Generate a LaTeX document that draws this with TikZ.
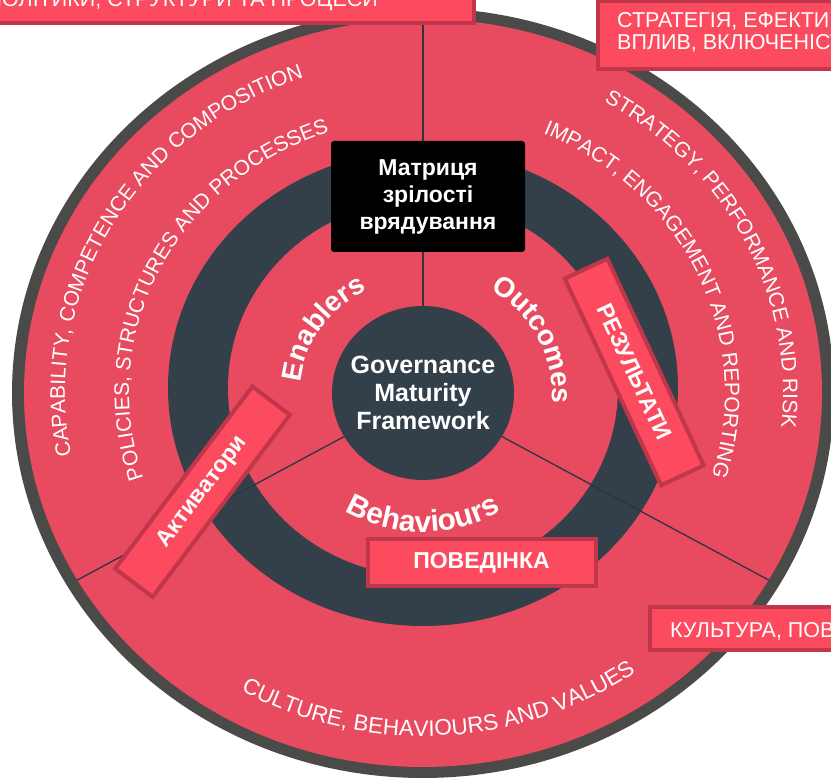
\documentclass[tikz,border=0pt]{standalone}
\usepackage{fontspec}
\setmainfont{Liberation Sans}
\usetikzlibrary{decorations.text}
\definecolor{rimgray}{HTML}{4A4A48}
\definecolor{ringred}{HTML}{E84A5F}
\definecolor{ringdark}{HTML}{333F49}
\definecolor{boxred}{HTML}{FC4A5E}
\definecolor{boxedge}{HTML}{C0364A}
\definecolor{divline}{HTML}{2B3640}
\newcommand\outerfs{\fontsize{21}{25}\selectfont}
\newcommand\bottomfs{\fontsize{22.5}{26}\selectfont}
\newcommand\cornerfs{\fontsize{21.5}{25}\selectfont}
\newcommand\innerfs{\fontsize{28}{32}\selectfont\bfseries}
\newcommand\behfs{\fontsize{30}{34}\selectfont\bfseries}
\newcommand\labelfs{\fontsize{23}{27}\selectfont\bfseries}
\begin{document}
\begin{tikzpicture}[x=1pt,y=1pt,
  labbox/.style={draw=boxedge, fill=boxred, line width=4pt, minimum width=228pt,
    minimum height=47pt, inner sep=0pt, text=white, font=\labelfs},
  cornerbox/.style={draw=boxedge, fill=boxred, line width=4pt},
  cornertext/.style={text=white, font=\cornerfs, inner sep=0pt},
  divider/.style={draw=divline, line width=1.3pt},
  arctxt/.style={decorate, decoration={text along path, text align=center, text={#1}}}
]
\useasboundingbox (0,0) rectangle (831,781);
\clip (0,0) rectangle (831,781);
\coordinate (C) at (423,388);
\coordinate (Cr) at (423,393);
% rings
\fill[rimgray] (C) ellipse [x radius=411pt, y radius=385pt];
\fill[ringred] (C) ellipse [x radius=399pt, y radius=374pt];
\fill[ringdark] (Cr) ellipse [x radius=255pt, y radius=238pt];
\fill[ringred] (Cr) ellipse [x radius=195pt, y radius=188pt];
% dividers
\path (C) ++(90:91pt and 87pt) coordinate (d1a);
\path (C) ++(90:399pt and 374pt) coordinate (d1b);
\path (C) ++(210:91pt and 87pt) coordinate (d2a);
\path (C) ++(210:399pt and 374pt) coordinate (d2b);
\path (C) ++(330:91pt and 87pt) coordinate (d3a);
\path (C) ++(330:399pt and 374pt) coordinate (d3b);
\draw[divider] (d1a) -- (d1b);
\draw[divider] (d2a) -- (d2b);
\draw[divider] (d3a) -- (d3b);
% centre
\fill[ringdark] (C) ellipse [x radius=91pt, y radius=87pt];
\node[text=white, align=center, font=\fontsize{25}{28}\selectfont\bfseries] (gmf) at (C) {Governance\\Maturity\\Framework};
% curved texts
\path[arctxt={|\color{white}\outerfs|CAPABILITY, COMPETENCE AND COMPOSITION}]
  (C) ++(231:358pt and 335pt) arc[start angle=231, end angle=71, x radius=358pt, y radius=335pt];
\path[arctxt={|\color{white}\outerfs|POLICIES, STRUCTURES AND PROCESSES}]
  (C) ++(234:294pt and 275pt) arc[start angle=234, end angle=74, x radius=294pt, y radius=275pt];
\path[arctxt={|\color{white}\innerfs|Enablers}]
  (C) ++(217:123pt and 115pt) arc[start angle=217, end angle=77, x radius=123pt, y radius=115pt];
\path[arctxt={|\color{white}\outerfs|STRATEGY, PERFORMANCE AND RISK}]
  (C) ++(106:360pt and 337pt) arc[start angle=106, end angle=-54, x radius=360pt, y radius=337pt];
\path[arctxt={|\color{white}\outerfs|IMPACT, ENGAGEMENT AND REPORTING}]
  (C) ++(104:302pt and 283pt) arc[start angle=104, end angle=-56, x radius=302pt, y radius=283pt];
\path[arctxt={|\color{white}\innerfs|Outcomes}]
  (C) ++(96:129pt and 121pt) arc[start angle=96, end angle=-44, x radius=129pt, y radius=121pt];
\path[arctxt={|\color{white}\bottomfs|CULTURE, BEHAVIOURS AND VALUES}]
  (C) ++(193:366pt and 343pt) arc[start angle=193, end angle=353, x radius=366pt, y radius=343pt];
\path[arctxt={|\color{white}\behfs|Behaviours}]
  (C) ++(200:148pt and 139pt) arc[start angle=200, end angle=340, x radius=148pt, y radius=139pt];
% black title box
\node[fill=black, rounded corners=3pt, minimum width=194pt, minimum height=111pt, inner sep=0pt,
  text=white, align=center, font=\labelfs] (matrix) at (428,584.5) {Матриця\\зрілості\\врядування};
% label boxes
\node[labbox, rotate=53] (act) at (202.5,289.25) {Активатори};
\node[labbox, rotate=-65] (res) at (634.25,409) {РЕЗУЛЬТАТИ};
\node[labbox] (beh) at (481.5,218.5) {ПОВЕДІНКА};
% corner boxes
\draw[cornerbox] (-10,800) rectangle (474,757.5);
\node[cornertext, anchor=base east] (tltext) at (378,774) {ПОЛІТИКИ, СТРУКТУРИ ТА ПРОЦЕСИ};
\draw[cornerbox] (598,779.5) rectangle (845,711.5);
\node[cornertext, anchor=base west] (trtext1) at (617,753) {СТРАТЕГІЯ, ЕФЕКТИ};
\node[cornertext, anchor=base west] (trtext2) at (617,731.5) {ВПЛИВ, ВКЛЮЧЕНІСТ};
\draw[cornerbox] (650,174) rectangle (845,131);
\node[cornertext, anchor=base west] (brtext) at (670,143) {КУЛЬТУРА, ПОВ};
\end{tikzpicture}
\end{document}
